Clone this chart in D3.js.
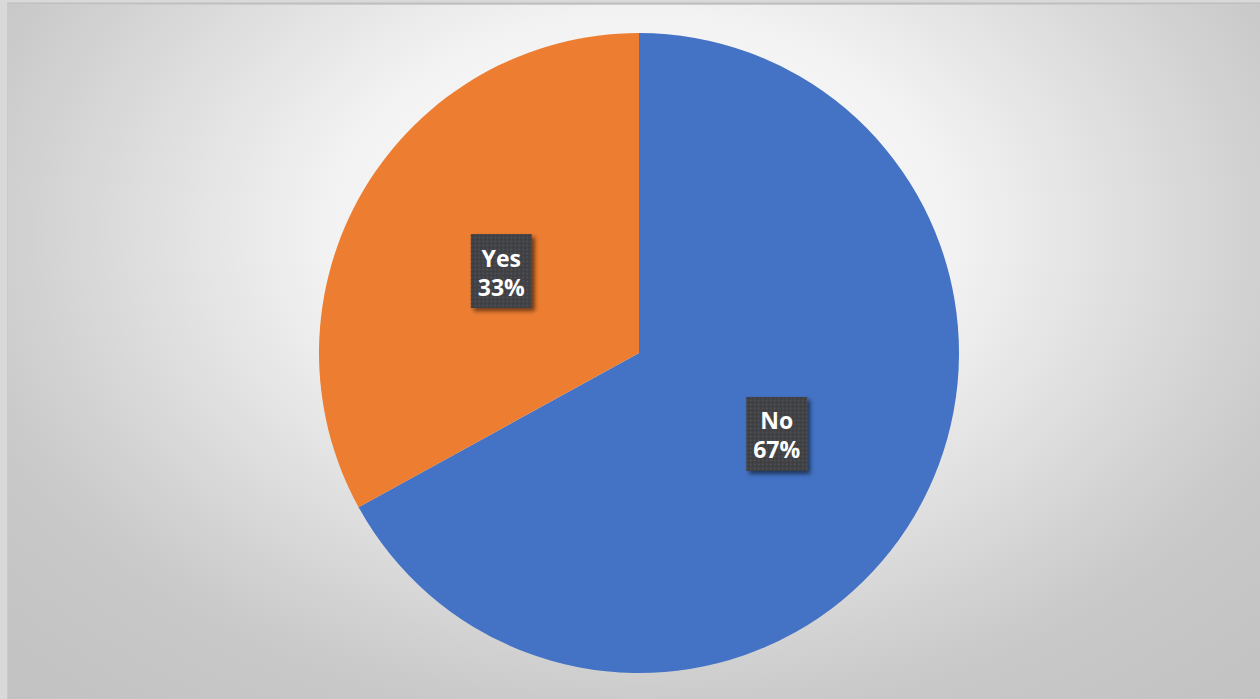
<!DOCTYPE html>
<html>
<head>
<meta charset="utf-8">
<script src="https://cdn.jsdelivr.net/npm/d3@7"></script>
<style>
  html, body { margin: 0; padding: 0; background: #d9d9d9; overflow: hidden; }
  svg { display: block; }
  .lbl { font-family: "Open Sans", "Noto Sans", sans-serif; font-weight: 700; font-size: 23px; fill: #ffffff; }
</style>
</head>
<body>
<svg id="chart" width="1260" height="699"></svg>
<script>
// Survey answers and their share of responses (percent)
const categories = ["No", "Yes"];
const values = [67, 33];
const sliceColors = ["#4472C4", "#ED7D31"];

const W = 1260, H = 699;
const svg = d3.select("#chart");
const defs = svg.append("defs");

// Soft radial backdrop of the chart area
const grad = defs.append("radialGradient")
  .attr("id", "bg")
  .attr("gradientUnits", "userSpaceOnUse")
  .attr("cx", 640).attr("cy", 230).attr("r", 920)
  .attr("gradientTransform", "translate(640,230) scale(1,0.7) translate(-640,-230)");
[[0, "#ffffff"], [0.34, "#f2f2f2"], [0.68, "#d0d0d0"], [0.77, "#c8c8c8"], [1, "#c2c2c2"]]
  .forEach(([o, c]) => grad.append("stop").attr("offset", o).attr("stop-color", c));

// Dotted texture for the data-label boxes
const pat = defs.append("pattern")
  .attr("id", "dots").attr("patternUnits", "userSpaceOnUse")
  .attr("width", 4).attr("height", 4);
pat.append("rect").attr("width", 4).attr("height", 4).attr("fill", "#3f3f42");
pat.append("circle").attr("cx", 2).attr("cy", 2).attr("r", 0.8).attr("fill", "#5d6272");

const shadow = defs.append("filter").attr("id", "shadow")
  .attr("x", "-30%").attr("y", "-30%").attr("width", "160%").attr("height", "160%");
shadow.append("feDropShadow")
  .attr("dx", 3).attr("dy", 3).attr("stdDeviation", 2)
  .attr("flood-color", "#000").attr("flood-opacity", 0.55);

// Frame and chart area
svg.append("rect").attr("x", 0).attr("y", 0).attr("width", W).attr("height", H).attr("fill", "#d9d9d9");
svg.append("rect").attr("x", 8).attr("y", 5).attr("width", W - 8).attr("height", H - 5).attr("fill", "url(#bg)");
svg.append("line").attr("x1", 7).attr("x2", W).attr("y1", 3.5).attr("y2", 3.5)
  .attr("stroke", "#bfbfbf").attr("stroke-width", 2);
svg.append("line").attr("x1", 7.5).attr("x2", 7.5).attr("y1", 3).attr("y2", H)
  .attr("stroke", "#c9c9c9").attr("stroke-width", 1);

// Pie
const cx = 639, cy = 353, radius = 320;
const data = categories.map((c, i) => ({ category: c, value: values[i], color: sliceColors[i] }));
const pie = d3.pie().value(d => d.value).sort(null);
const arc = d3.arc().innerRadius(0).outerRadius(radius);
const arcs = pie(data);

const g = svg.append("g").attr("transform", `translate(${cx},${cy})`);
g.selectAll("path.slice")
  .data(arcs)
  .join("path")
  .attr("class", "slice")
  .attr("d", arc)
  .attr("fill", d => d.data.color);

// Data labels: category and percentage inside a dark box
const labels = g.selectAll("g.label")
  .data(arcs)
  .join("g")
  .attr("class", "label")
  .attr("transform", d => `translate(${arc.centroid(d)})`);

labels.append("rect").attr("fill", "url(#dots)").attr("filter", "url(#shadow)");
labels.append("text").attr("class", "lbl").attr("text-anchor", "middle")
  .attr("y", -5).text(d => d.data.category);
labels.append("text").attr("class", "lbl").attr("text-anchor", "middle")
  .attr("y", 24).text(d => d.data.value + "%");

labels.each(function () {
  const node = d3.select(this);
  const wMax = d3.max(node.selectAll("text").nodes(), t => t.getComputedTextLength());
  const bw = Math.round(wMax + 14), bh = 74;
  node.select("rect")
    .attr("x", -bw / 2).attr("y", -bh / 2 - 0.5)
    .attr("width", bw).attr("height", bh);
});
</script>
</body>
</html>
